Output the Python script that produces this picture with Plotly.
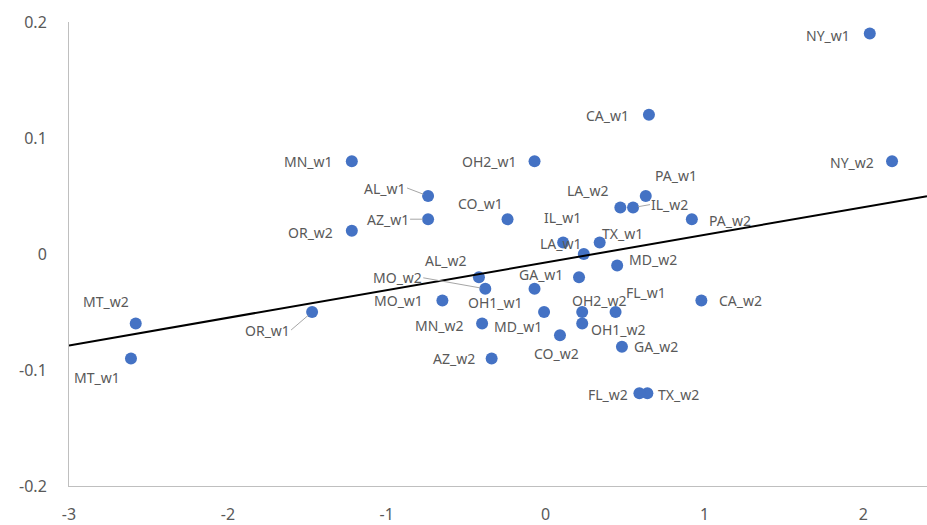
import numpy as np
import plotly.graph_objects as go

# ---- data ----
names = ["NY_w1", "NY_w2", "CA_w1", "CA_w2", "MN_w1", "MN_w2", "OH2_w1", "OH2_w2",
         "OH1_w1", "OH1_w2", "AL_w1", "AL_w2", "AZ_w1", "AZ_w2", "OR_w1", "OR_w2",
         "CO_w1", "CO_w2", "IL_w1", "IL_w2", "LA_w1", "LA_w2", "PA_w1", "PA_w2",
         "TX_w1", "TX_w2", "FL_w1", "FL_w2", "GA_w1", "GA_w2", "MD_w1", "MD_w2",
         "MO_w1", "MO_w2", "MT_w1", "MT_w2"]
x_vals = [2.04, 2.18, 0.65, 0.98, -1.22, -0.40, -0.07, 0.23,
          -0.07, 0.23, -0.74, -0.42, -0.74, -0.34, -1.47, -1.22,
          -0.24, 0.09, 0.11, 0.55, 0.24, 0.47, 0.63, 0.92,
          0.34, 0.64, 0.44, 0.59, 0.21, 0.48, -0.01, 0.45,
          -0.65, -0.38, -2.61, -2.58]
y_vals = [0.19, 0.08, 0.12, -0.04, 0.08, -0.06, 0.08, -0.05,
          -0.03, -0.06, 0.05, -0.02, 0.03, -0.09, -0.05, 0.02,
          0.03, -0.07, 0.01, 0.04, 0.00, 0.04, 0.05, 0.03,
          0.01, -0.12, -0.05, -0.12, -0.02, -0.08, -0.05, -0.01,
          -0.04, -0.03, -0.09, -0.06]

x_tick_vals = [-3, -2, -1, 0, 1, 2]
x_tick_text = ["-3", "-2", "-1", "0", "1", "2"]
y_tick_vals = [-0.2, -0.1, 0, 0.1, 0.2]
y_tick_text = ["-0.2", "-0.1", "0", "0.1", "0.2"]

# ---- label placement (style only): anchor, dx, dy in screen px, leader line ----
label_style = {
    "NY_w1": ("R", -20, 2, False), "NY_w2": ("R", -18, 1, False),
    "CA_w1": ("R", -20, 1, False), "CA_w2": ("L", 18, 0, False),
    "MN_w1": ("R", -19, 0, False), "MN_w2": ("R", -18, 2, False),
    "OH2_w1": ("R", -18, 0, False), "OH2_w2": ("C", 17, -12, False),
    "OH1_w1": ("R", -12, 14, False), "OH1_w2": ("L", 9, 6, False),
    "AL_w1": ("R", -21, -8, True), "AL_w2": ("R", -12, -17, False),
    "AZ_w1": ("R", -18, 0, True), "AZ_w2": ("R", -17, 0, False),
    "OR_w1": ("R", -21, 18, True), "OR_w2": ("R", -19, 2, False),
    "CO_w1": ("R", -5, -16, False), "CO_w2": ("C", -3, 18, False),
    "IL_w1": ("C", -1, -25, False), "IL_w2": ("L", 17, -3, True),
    "LA_w1": ("R", -2, -11, False), "LA_w2": ("R", -11, -17, False),
    "PA_w1": ("L", 9, -21, False), "PA_w2": ("L", 17, 1, False),
    "TX_w1": ("L", 2, -9, False), "TX_w2": ("L", 11, 1, False),
    "FL_w1": ("L", 10, -20, False), "FL_w2": ("R", -11, 1, False),
    "GA_w1": ("R", -16, -3, False), "GA_w2": ("L", 12, 0, False),
    "MD_w1": ("R", -2, 14, False), "MD_w2": ("L", 12, -6, False),
    "MO_w1": ("R", -19, 0, False), "MO_w2": ("R", -62, -11, True),
    "MT_w1": ("R", -11, 19, False), "MT_w2": ("R", -7, -22, False),
}

X_RANGE = [-3, 2.4]
Y_RANGE = [-0.2, 0.2]

TEXT_COLOR = "#595959"
FONT = "Noto Sans, Segoe UI, sans-serif"

fig = go.Figure()
fig.add_trace(go.Scatter(
    x=x_vals, y=y_vals, mode="markers",
    marker=dict(color="#4472C4", size=12, line=dict(width=0)),
    hovertext=names, showlegend=False, cliponaxis=False,
))

# linear trendline (least squares), extended across the axis range
slope, intercept = np.polyfit(np.array(x_vals), np.array(y_vals), 1)
tx = np.array(X_RANGE, dtype=float)
fig.add_trace(go.Scatter(
    x=tx, y=slope * tx + intercept, mode="lines",
    line=dict(color="black", width=2), showlegend=False, hoverinfo="skip",
))

annotations = []
for n, xv, yv in zip(names, x_vals, y_vals):
    anchor, dx, dy, leader = label_style[n]
    xa = {"R": "right", "L": "left", "C": "center"}[anchor]
    common = dict(x=xv, y=yv, xref="x", yref="y", text=n, xanchor=xa, yanchor="middle",
                  font=dict(family=FONT, size=14, color=TEXT_COLOR))
    if leader:
        common.update(showarrow=True, ax=dx, ay=dy, arrowhead=0, arrowwidth=1,
                      arrowcolor="#a6a6a6", standoff=5, borderpad=0)
    else:
        pad = 2 if anchor == "R" else (-2 if anchor == "L" else 0)
        common.update(showarrow=False, xshift=dx + pad, yshift=-dy)
    annotations.append(common)

fig.update_layout(
    width=927, height=525,
    margin=dict(l=69, r=0, t=22, b=39),
    paper_bgcolor="white", plot_bgcolor="white",
    annotations=annotations,
    font=dict(family=FONT, color=TEXT_COLOR),
    xaxis=dict(range=X_RANGE, tickvals=x_tick_vals, ticktext=x_tick_text,
               showgrid=False, zeroline=False, showline=True, linecolor="#bfbfbf",
               linewidth=1, ticks="", ticklabelstandoff=14,
               tickfont=dict(family=FONT, size=16, color=TEXT_COLOR)),
    yaxis=dict(range=Y_RANGE, tickvals=y_tick_vals, ticktext=y_tick_text,
               showgrid=False, zeroline=False, showline=True, linecolor="#bfbfbf",
               linewidth=1, ticks="", ticklabelstandoff=18,
               tickfont=dict(family=FONT, size=16, color=TEXT_COLOR)),
)

fig.write_html("out.html",
               config={"displayModeBar": False},
               post_script="document.body.style.margin='0';document.body.style.overflow='hidden';")
